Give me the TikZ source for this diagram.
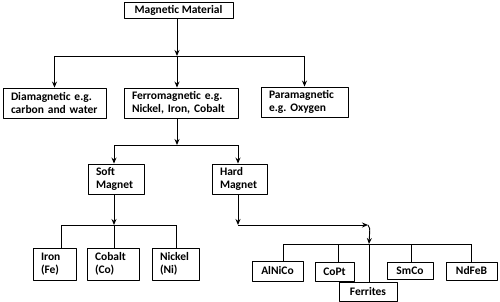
\documentclass[tikz,border=0pt]{standalone}
\usepackage{fontspec}
\setmainfont{Carlito}
\frenchspacing
\usetikzlibrary{arrows.meta}

\tikzset{
  cbox/.style 2 args={draw, line width=0.9pt, minimum width=#1, minimum height=#2, inner sep=0pt, align=center},
  lbox/.style 2 args={draw, line width=0.9pt, text width=#1, minimum height=#2, inner xsep=8pt, inner ysep=1pt, align=left},
  link/.style={line width=0.9pt},
  arr/.style={line width=0.9pt, -{Stealth[length=6pt,width=5pt]}},
}

\begin{document}
\begin{tikzpicture}[x=1pt, y=-1pt, line join=round, font=\fontsize{11.5}{13}\selectfont\bfseries]
	\useasboundingbox (0,0) rectangle (500,302);
	
	% 1. Cac hop
	\node[cbox={109pt}{16pt}] (mag) at (178.5,10) {Magnetic Material};
	\node[lbox={87pt}{30pt}] (dia) at (54.5,103) {Diamagnetic e.g.\\carbon and water};
	\node[lbox={98pt}{30pt}] (ferro) at (181,103) {Ferromagnetic e.g.\\Nickel, Iron, Cobalt};
	\node[lbox={71pt}{30pt}] (para) at (304.5,102) {Paramagnetic\\e.g. Oxygen};
	\node[lbox={40pt}{30pt}] (soft) at (116,179) {Soft\\Magnet};
	\node[lbox={39pt}{30pt}] (hard) at (239.5,179) {Hard\\Magnet};
	\node[lbox={27pt}{32pt}] (iron) at (54.5,264) {Iron\\(Fe)};
	\node[lbox={36pt}{32pt}] (cobalt) at (113,264) {Cobalt\\(Co)};
	\node[lbox={31pt}{32pt}] (nickel) at (175.5,264) {Nickel\\(Ni)};
	\node[cbox={51pt}{20pt}] (alnico) at (277.5,271) {AlNiCo};
	\node[cbox={39pt}{19pt}] (copt) at (334.5,271.5) {CoPt};
	\node[cbox={58pt}{19pt}] (ferrites) at (368,291.5) {Ferrites};
	\node[cbox={46pt}{17pt}] (smco) at (410,270.5) {SmCo};
	\node[cbox={51pt}{18pt}] (ndfeb) at (471.5,271) {NdFeB};
	
	% 2. Nhanh dau tien
	\coordinate (j1) at (177,56);
	\draw[arr] (mag.south -| j1) -- (j1);
	\draw[link] (dia.north |- j1) -- (para.north |- j1);
	\draw[arr] (dia.north |- j1) -- (dia.north);
	\draw[arr] (j1) -- (j1 |- ferro.north);
	\draw[arr] (para.north |- j1) -- (para.north);
	
	% 3. Soft / Hard
	\coordinate (j2) at (177,145);
	\coordinate (sL) at (114,145);
	\coordinate (sR) at (238,145);
	\draw[arr] (j1 |- ferro.south) -- (j2);
	\draw[link] (sL) -- (sR);
	\draw[arr] (sL) -- (sL |- soft.north);
	\draw[arr] (sR) -- (sR |- hard.north);
	
	% 4. Soft magnet
	\coordinate (j3) at (114,225);
	\coordinate (fL) at (61,225);
	\coordinate (fR) at (176,225);
	\draw[arr] (sL |- soft.south) -- (j3);
	\draw[link] (fL) -- (fR);
	\draw[link] (fL) -- (fL |- iron.north);
	\draw[link] (j3) -- (j3 |- cobalt.north);
	\draw[link] (fR) -- (fR |- nickel.north);
	
	% 5. Hard magnet
	\coordinate (j4) at (238,225);
	\coordinate (j5) at (368,225);
	\coordinate (j6) at (369,244);
	\draw[arr] (sR |- hard.south) -- (j4);
	\draw[arr] (j4) -- (j5);
	\draw[arr] (j5) .. controls (370,227) .. (j6);
	\coordinate (t1) at (283,244);
	\coordinate (t2) at (338,244);
	\coordinate (t3) at (411,244);
	\coordinate (t4) at (471,244);
	\draw[link] (t1) -- (t4);
	\draw[link] (t1) -- (t1 |- alnico.north);
	\draw[link] (t2) -- (t2 |- copt.north);
	\draw[link] (j6) -- (j6 |- ferrites.north);
	\draw[link] (t3) -- (t3 |- smco.north);
	\draw[link] (t4) -- (t4 |- ndfeb.north);
\end{tikzpicture}
\end{document}
